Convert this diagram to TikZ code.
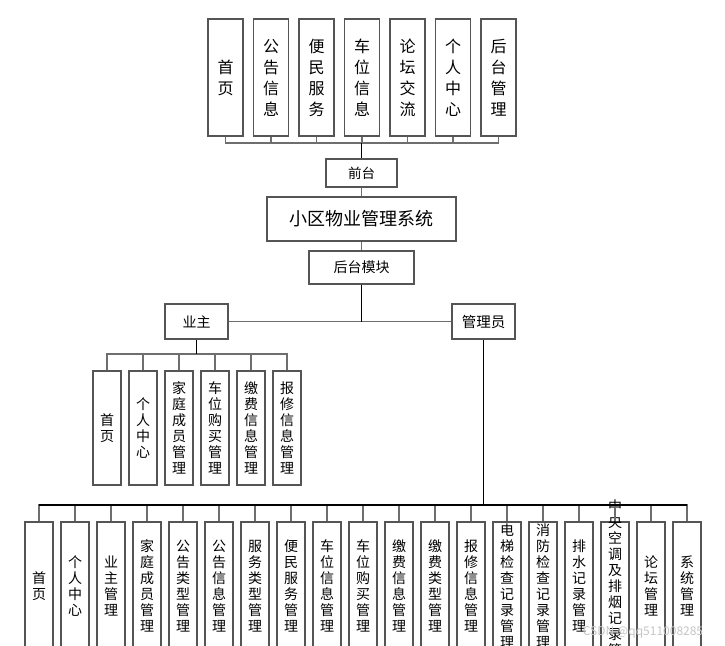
\documentclass[tikz,border=0pt]{standalone}
\usepackage{fontspec}
\setmainfont{Noto Sans CJK SC}
\definecolor{boxc}{RGB}{85,85,85}
\definecolor{linec}{RGB}{110,110,110}
\begin{document}
\begin{tikzpicture}[x=1pt,y=-1pt,
  box/.style={draw=boxc, line width=1.3pt, fill=white, inner sep=0pt},
  topbox/.style={box, minimum width=35pt, minimum height=117pt, align=center, font=\fontsize{16}{21}\selectfont},
  midbox/.style={box, minimum width=28pt, minimum height=114pt},
  lowbox/.style={box, minimum width=28pt, minimum height=128pt},
  vtxt/.style={inner sep=0pt, align=center, font=\fontsize{14}{16}\selectfont},
  conn/.style={draw=linec, line width=1.2pt},
  trunk/.style={draw=black, line width=1.6pt}]
\useasboundingbox (0,0) rectangle (725,645);
\fill[white] (0,0) rectangle (725,645);
% top row
\foreach \t [count=\i] in {{首\\页},{公\\告\\信\\息},{便\\民\\服\\务},{车\\位\\信\\息},{论\\坛\\交\\流},{个\\人\\中\\心},{后\\台\\管\\理}}
  \node[topbox] (t\i) at ({225.5+45.5*(\i-1)},77.5) {\t};
\node[box, minimum width=71pt, minimum height=28pt, font=\fontsize{13.5}{14}\selectfont] (qt) at (361.5,173) {前台};
\node[box, minimum width=189pt, minimum height=44pt, font=\fontsize{18}{20}\selectfont] (sys) at (361.5,219) {小区物业管理系统};
\node[box, minimum width=105pt, minimum height=33pt, font=\fontsize{14}{16}\selectfont] (ht) at (361.5,267.5) {后台模块};
\node[box, minimum width=63pt, minimum height=35pt, font=\fontsize{14}{16}\selectfont] (yz) at (196.5,321.5) {业主};
\node[box, minimum width=63pt, minimum height=35pt, font=\fontsize{14.5}{16}\selectfont] (gly) at (483.5,321.5) {管理员};
\coordinate (tb) at (361.5,143);
\coordinate (mid) at (361.5,321.5);
\coordinate (yb) at (196.5,354);
\coordinate (gb) at (483.5,505);
% top connectors
\foreach \i in {1,...,7} \draw[conn] (t\i.south) |- (tb);
\draw[trunk] (tb) -- (qt.north);
\draw[conn] (qt.south) -- (sys.north);
\draw[conn] (sys.south) -- (ht.north);
\draw[conn] (yz.east) -- (gly.west);
\draw[trunk] (ht.south) -- (mid);
% owner children
\foreach \t [count=\i] in {{首\\页},{个\\人\\中\\心},{家\\庭\\成\\员\\管\\理},{车\\位\\购\\买\\管\\理},{缴\\费\\信\\息\\管\\理},{报\\修\\信\\息\\管\\理}}{
  \node[midbox] (y\i) at ({107+36*(\i-1)},428) {};
  \node[vtxt] (yt\i) at (y\i.center) {\t};
}
\foreach \i in {1,...,6} \draw[conn] (y\i.north) |- (yb);
\draw[trunk] (yz.south) -- (yb);
% admin children
\foreach \t [count=\i] in {{首\\页},{个\\人\\中\\心},{业\\主\\管\\理},{家\\庭\\成\\员\\管\\理},{公\\告\\类\\型\\管\\理},{公\\告\\信\\息\\管\\理},{服\\务\\类\\型\\管\\理},{便\\民\\服\\务\\管\\理},{车\\位\\信\\息\\管\\理},{车\\位\\购\\买\\管\\理},{缴\\费\\信\\息\\管\\理},{缴\\费\\类\\型\\管\\理},{报\\修\\信\\息\\管\\理},{电\\梯\\检\\查\\记\\录\\管\\理},{消\\防\\检\\查\\记\\录\\管\\理},{排\\水\\记\\录\\管\\理},{中\\央\\空\\调\\及\\排\\烟\\记\\录\\管\\理},{论\\坛\\管\\理},{系\\统\\管\\理}}{
  \node[lowbox] (g\i) at ({39+36*(\i-1)},586) {};
}
\foreach \t [count=\i] in {{首\\页},{个\\人\\中\\心},{业\\主\\管\\理},{家\\庭\\成\\员\\管\\理},{公\\告\\类\\型\\管\\理},{公\\告\\信\\息\\管\\理},{服\\务\\类\\型\\管\\理},{便\\民\\服\\务\\管\\理},{车\\位\\信\\息\\管\\理},{车\\位\\购\\买\\管\\理},{缴\\费\\信\\息\\管\\理},{缴\\费\\类\\型\\管\\理},{报\\修\\信\\息\\管\\理},{电\\梯\\检\\查\\记\\录\\管\\理},{消\\防\\检\\查\\记\\录\\管\\理},{排\\水\\记\\录\\管\\理},{中\\央\\空\\调\\及\\排\\烟\\记\\录\\管\\理},{论\\坛\\管\\理},{系\\统\\管\\理}}
  \node[vtxt] (gt\i) at (g\i.center) {\t};
\foreach \i in {1,...,19} \draw[conn] (g\i.north) |- (gb);
\draw[trunk] (g1.north |- gb) -- (g19.north |- gb);
\draw[trunk] (gly.south) -- (gb);
\node[text=gray!45, font=\fontsize{12}{12}\selectfont, inner sep=0pt] (wm) at (643,632) {CSDN @qq511008285};
\end{tikzpicture}
\end{document}
